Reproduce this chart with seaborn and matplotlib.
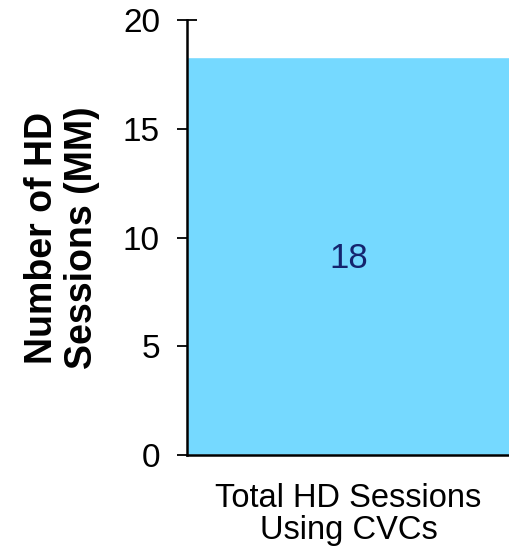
import matplotlib
matplotlib.use("Agg")
import matplotlib.pyplot as plt
import seaborn as sns
import pandas as pd

categories = ["Total HD Sessions\nUsing CVCs"]
sessions_mm = [18.3]
value_labels = ["18"]

sns.set_style("white")
plt.rcParams["font.family"] = ["Liberation Sans", "DejaVu Sans"]
plt.rcParams.update({"text.color": "black", "axes.labelcolor": "black",
                     "xtick.color": "black", "ytick.color": "black"})

df = pd.DataFrame({"Kategorie": categories, "Sitzungen": sessions_mm})

fig = plt.figure(figsize=(5.10, 5.47), dpi=100)
ax = fig.add_axes([0.3667, 0.168, 0.6333, 0.7954])

sns.barplot(data=df, x="Kategorie", y="Sitzungen", color="#75D9FF",
            width=1.0, saturation=1, ax=ax)
ax.set_xlim(-0.5, 0.5)
ax.set_ylim(0, 20)
ax.set_yticks([0, 5, 10, 15, 20])

for i, (v, lab) in enumerate(zip(sessions_mm, value_labels)):
    ax.text(i, 9.05, lab, ha="center", va="center", fontsize=25, color="#14246E")

ax.set_xlabel("")
ax.set_ylabel("Number of HD\nSessions (MM)", fontsize=27, fontweight="bold",
              linespacing=1.15)
ax.yaxis.set_label_coords(-0.27, 0.5)
ax.tick_params(axis="y", labelsize=24, length=15, width=1.3, direction="inout", left=True, pad=12)
ax.tick_params(axis="x", labelsize=23.5, length=0, pad=20)
for t in ax.get_xticklabels():
    t.set_linespacing(1.05)
for s in ["top", "right"]:
    ax.spines[s].set_visible(False)
for s in ["left", "bottom"]:
    ax.spines[s].set_linewidth(1.8)
    ax.spines[s].set_color("black")

fig.savefig("out.png", dpi=100)
